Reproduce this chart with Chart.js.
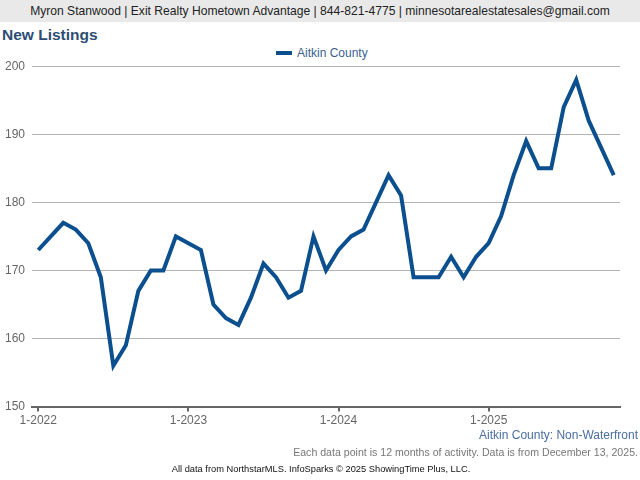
<!DOCTYPE html>
<html>
<head>
<meta charset="utf-8">
<script src="https://cdn.jsdelivr.net/npm/chart.js@4"></script>
<style>
  body { margin: 0; width: 640px; height: 480px; background: #fff; font-family: "Liberation Sans", Arial, sans-serif; position: relative; overflow: hidden; }
  #header { position: absolute; left: 0; top: 0; width: 640px; height: 22px; background: #e9e9e9; color: #222; font-size: 12.1px; line-height: 22px; text-align: center; }
  #title { position: absolute; left: 2px; top: 26px; font-size: 15.5px; font-weight: bold; color: #2d4d73; }
  #legend { position: absolute; left: 276px; top: 46px; font-size: 12px; color: #3a5f8f; white-space: nowrap; }
  #legend span.sw { display: inline-block; width: 16px; height: 4px; background: #0b4f8e; vertical-align: middle; margin-right: 5px; position: relative; top: -1px; }
  #wrap { position: absolute; left: 0; top: 52px; width: 640px; height: 378px; }
  #sub { position: absolute; right: 2px; top: 428px; font-size: 12px; color: #4a6e9e; }
  #note { position: absolute; right: 2px; top: 446px; font-size: 10.6px; color: #777; }
  #src { position: absolute; left: 0; width: 642px; top: 464px; font-size: 9.3px; color: #111; text-align: center; }
</style>
</head>
<body>
<div id="header">Myron Stanwood | Exit Realty Hometown Advantage | 844-821-4775 | minnesotarealestatesales@gmail.com</div>
<div id="title">New Listings</div>
<div id="legend"><span class="sw"></span>Aitkin County</div>
<div id="wrap"><canvas id="lineChart"></canvas></div>
<div id="sub">Aitkin County: Non-Waterfront</div>
<div id="note">Each data point is 12 months of activity. Data is from December 13, 2025.</div>
<div id="src">All data from NorthstarMLS. InfoSparks © 2025 ShowingTime Plus, LLC.</div>
<script>
// monthly labels, 1-2022 .. 11-2025
const months = [];
for (let y = 2022; y <= 2025; y++) {
    for (let m = 1; m <= 12; m++) {
        if (y === 2025 && m > 11) break;
        months.push(m + '-' + y);
    }
}

const aitkin = [
    173, 175, 177, 176, 174, 169, 156, 159, 167, 170, 170, 175,
    174, 173, 165, 163, 162, 166, 171, 169, 166, 167, 175, 170,
    173, 175, 176, 180, 184, 181, 169, 169, 169, 172, 169, 172,
    174, 178, 184, 189, 185, 185, 194, 198, 192, 188, 184
];

const yTicks = [150, 160, 170, 180, 190, 200];

document.addEventListener('DOMContentLoaded', () => {
    const ctx = document.getElementById('lineChart').getContext('2d');
    new Chart(ctx, {
        type: 'line',
        data: {
            labels: months,
            datasets: [{
                label: 'Aitkin County',
                data: aitkin,
                borderColor: '#0b4f8e',
                backgroundColor: '#0b4f8e',
                borderWidth: 4,
                pointRadius: 0,
                tension: 0,
                fill: false
            }]
        },
        options: {
            animation: false,
            responsive: true,
            maintainAspectRatio: false,
            layout: { padding: { left: -2, right: 20, top: 0, bottom: 0 } },
            scales: {
                x: {
                    offset: true,
                    grid: {
                        offset: false,
                        drawOnChartArea: false,
                        drawTicks: true,
                        tickLength: 5,
                        color: (c) => (c.index % 12 === 0 ? '#666' : 'rgba(0,0,0,0)'),
                        lineWidth: 2
                    },
                    border: { display: true, color: '#666', width: 2 },
                    ticks: {
                        autoSkip: false,
                        maxRotation: 0,
                        color: '#666',
                        font: { family: 'Liberation Sans', size: 12 },
                        padding: 2,
                        callback: (v, i) => (i % 12 === 0 ? months[i] : '')
                    }
                },
                y: {
                    min: 150,
                    max: 200,
                    afterBuildTicks: (s) => { s.ticks = yTicks.map(v => ({ value: v })); },
                    grid: { color: '#b4b4b4', lineWidth: 1, drawTicks: false },
                    border: { display: false },
                    ticks: {
                        color: '#666',
                        padding: 7,
                        font: { family: 'Liberation Sans', size: 12 }
                    }
                }
            },
            plugins: {
                legend: { display: false },
                tooltip: { enabled: false }
            }
        }
    });
});
</script>
</body>
</html>
